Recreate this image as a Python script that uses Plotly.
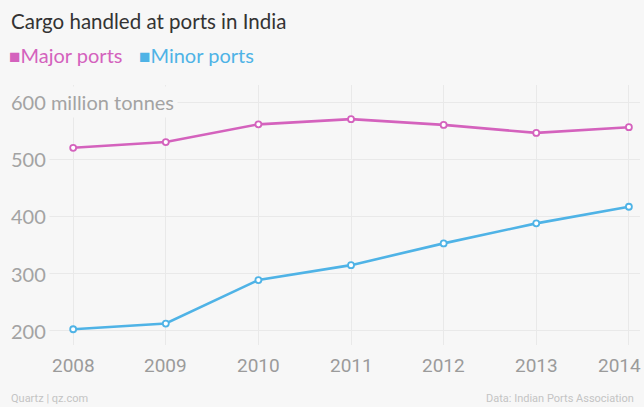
import plotly.graph_objects as go

years = [2008, 2009, 2010, 2011, 2012, 2013, 2014]
year_labels = ["2008", "2009", "2010", "2011", "2012", "2013", "2014"]
major_ports = [520, 530, 561, 570, 560, 546, 556]
minor_ports = [203, 213, 289, 315, 353, 388, 417]
y_ticks = [200, 300, 400, 500, 600]
y_tick_labels = ["200", "300", "400", "500", "600 million tonnes"]

MAJOR = "#d462bd"
MINOR = "#4fb3e6"
BG = "#f7f7f7"
GRID = "#e9e9e9"

fig = go.Figure()
for name, vals, col in [("Major ports", major_ports, MAJOR), ("Minor ports", minor_ports, MINOR)]:
    fig.add_trace(go.Scatter(
        x=years, y=vals, name=name, mode="lines+markers",
        line=dict(color=col, width=2.6),
        marker=dict(size=6, color="white", line=dict(color=col, width=1.8)),
        showlegend=False, cliponaxis=False, hoverinfo="skip",
    ))

W, H = 644, 407
ml, mr, mt, mb = 10, 4, 85, 62
pw = W - ml - mr
ph = H - mt - mb

def px_x(px):
    return (px - ml) / pw

def px_y(py):
    return (H - mb - py) / ph

annotations = [
    dict(text="Cargo handled at ports in India", xref="paper", yref="paper",
         x=px_x(9), y=px_y(21), xanchor="left", yanchor="middle",
         showarrow=False, font=dict(family="Lato", size=20.5, color="#333333")),
    dict(text="<span style='font-size:19px'>■</span>Major ports", xref="paper", yref="paper",
         x=px_x(7), y=px_y(55), xanchor="left", yanchor="middle",
         showarrow=False, font=dict(family="Lato", size=20, color=MAJOR)),
    dict(text="<span style='font-size:19px'>■</span>Minor ports", xref="paper", yref="paper",
         x=px_x(137), y=px_y(55), xanchor="left", yanchor="middle",
         showarrow=False, font=dict(family="Lato", size=20, color=MINOR)),
    dict(text="Quartz | qz.com", xref="paper", yref="paper",
         x=px_x(9), y=px_y(398), xanchor="left", yanchor="middle",
         showarrow=False, font=dict(family="Roboto", size=11, color="#c4c4c4")),
    dict(text="Data: Indian Ports Association", xref="paper", yref="paper",
         x=px_x(636), y=px_y(398), xanchor="right", yanchor="middle",
         showarrow=False, font=dict(family="Roboto", size=11, color="#c4c4c4")),
]
for t, lab in zip(y_ticks, y_tick_labels):
    annotations.append(dict(
        text=lab, xref="paper", yref="y", x=px_x(7), y=t, xanchor="left", yanchor="middle",
        showarrow=False, bgcolor=BG, borderpad=3,
        font=dict(family="Lato", size=20, color="#a3a3a3"),
    ))
# x tick labels (last one kept inside the canvas, as in the original)
for i, (yr, lab) in enumerate(zip(years, year_labels)):
    last = i == len(years) - 1
    annotations.append(dict(
        text=lab, xref="paper" if last else "x", yref="paper",
        x=px_x(643) if last else yr, y=px_y(365),
        xanchor="right" if last else "center", yanchor="middle", showarrow=False,
        font=dict(family="Roboto", size=19, color="#9b9b9b"),
    ))

fig.update_layout(
    width=W, height=H,
    margin=dict(l=ml, r=mr, t=mt, b=mb, autoexpand=False),
    paper_bgcolor=BG, plot_bgcolor=BG,
    annotations=annotations,
    xaxis=dict(
        range=[2007.318, 2014.12], tickvals=years, showticklabels=False,
        showgrid=True, gridcolor=GRID, gridwidth=1, zeroline=False, showline=False,
        ticks="", automargin=False,
    ),
    yaxis=dict(
        range=[175.5, 629.7], tickvals=y_ticks, showticklabels=False, automargin=False,
        showgrid=True, gridcolor=GRID, gridwidth=1, zeroline=False, showline=False, ticks="",
    ),
)

fig.write_html("out.html", config={"displayModeBar": False},
               post_script="document.body.style.margin='0';document.body.style.overflow='hidden';")
